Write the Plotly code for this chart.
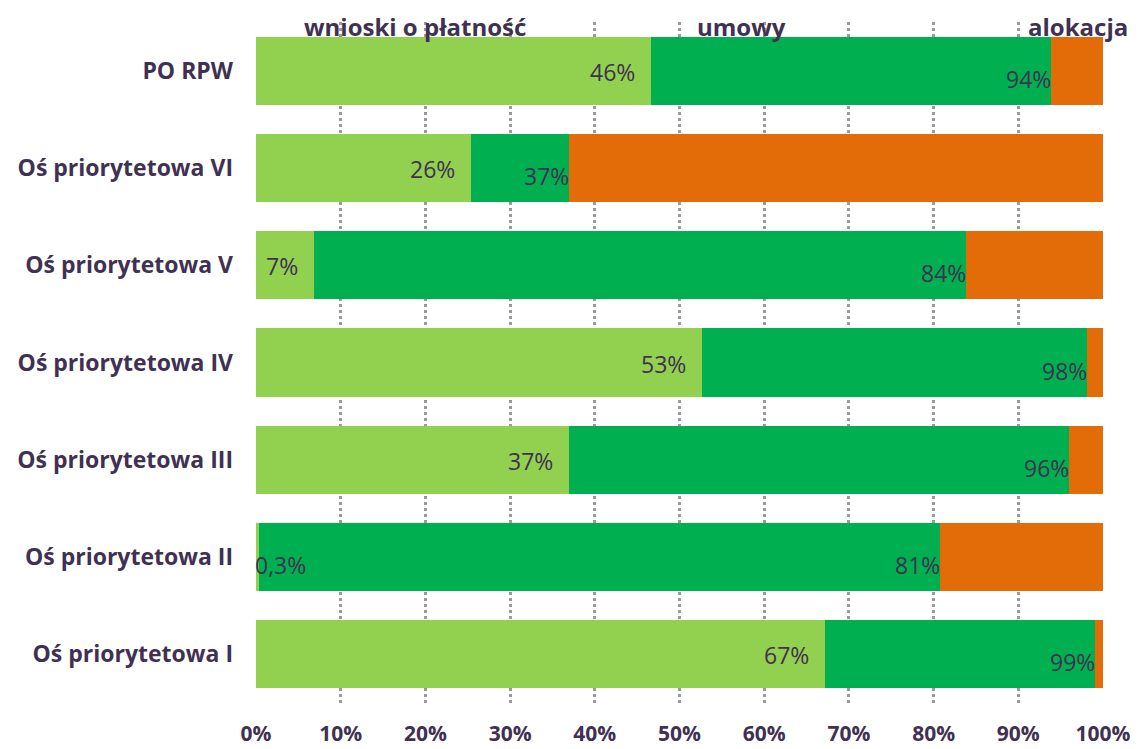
import plotly.graph_objects as go

categories = ["PO RPW", "Oś priorytetowa VI", "Oś priorytetowa V", "Oś priorytetowa IV",
              "Oś priorytetowa III", "Oś priorytetowa II", "Oś priorytetowa I"]
wnioski = [46.6, 25.4, 6.8, 52.7, 37.0, 0.3, 67.2]      # % cumulative (wnioski o płatność)
umowy = [93.9, 37.0, 83.8, 98.1, 96.0, 80.7, 99.1]      # % cumulative (umowy)
alokacja_total = 100.0
wnioski_labels = ["46%", "26%", "7%", "53%", "37%", "0,3%", "67%"]
umowy_labels = ["94%", "37%", "84%", "98%", "96%", "81%", "99%"]
series_names = ["wnioski o płatność", "umowy", "alokacja"]
x_ticks = list(range(0, 101, 10))

TXT = "#3f3151"
C_LIGHT = "#92d050"
C_DARK = "#00b050"
C_ORANGE = "#e36c09"
FONT = "Open Sans"

seg_light = wnioski
seg_dark = [u - w for u, w in zip(umowy, wnioski)]
seg_orange = [alokacja_total - u for u in umowy]

fig = go.Figure()
for name, vals, col in zip(series_names, [seg_light, seg_dark, seg_orange], [C_LIGHT, C_DARK, C_ORANGE]):
    fig.add_trace(go.Bar(y=categories, x=vals, name=name, orientation="h",
                         marker=dict(color=col, line=dict(width=0)), hoverinfo="skip"))

ann = []
for cat, w, lab in zip(categories, wnioski, wnioski_labels):
    if w < 2:
        ann.append(dict(x=0, y=cat, xref="x", yref="y", text=lab, showarrow=False,
                        xanchor="left", yanchor="middle", yshift=-8, xshift=-3,
                        font=dict(family=FONT, size=23, color=TXT)))
    else:
        ann.append(dict(x=w, y=cat, xref="x", yref="y", text=lab, showarrow=False,
                        xanchor="right", yanchor="middle", xshift=-14, yshift=-1,
                        font=dict(family=FONT, size=23, color=TXT)))
for cat, u, lab in zip(categories, umowy, umowy_labels):
    ann.append(dict(x=u, y=cat, xref="x", yref="y", text=lab, showarrow=False,
                    xanchor="right", yanchor="middle", xshift=2, yshift=-8,
                    font=dict(family=FONT, size=23, color=TXT)))

legend_x = [18.8, 57.3, 97.0]
for name, lx in zip(series_names, legend_x):
    ann.append(dict(x=lx, y=1, xref="x", yref="paper", text="<b>%s</b>" % name, showarrow=False,
                    xanchor="center", yanchor="middle", yshift=-4,
                    font=dict(family=FONT, size=24, color=TXT)))

# page body adds an 8px offset; figure size/margins compensate for it
fig.update_layout(
    barmode="stack",
    bargap=0.3,
    width=1130, height=741,
    margin=dict(l=248, r=35, t=14, b=46),
    paper_bgcolor="white", plot_bgcolor="white",
    showlegend=False,
    annotations=ann,
    xaxis=dict(range=[0, 100], tickvals=x_ticks, ticktext=["<b>%d%%</b>" % t for t in x_ticks],
               showgrid=True, gridcolor="#9a9a9a", griddash="dot", gridwidth=3,
               zeroline=False, showline=False, ticks="", ticklabelstandoff=16, automargin=False,
               tickfont=dict(family=FONT, size=21, color=TXT)),
    yaxis=dict(autorange="reversed", showgrid=False, showline=False, ticks="",
               ticklabelstandoff=22, tickvals=categories, automargin=False,
               ticktext=["<b>%s</b>" % c for c in categories],
               tickfont=dict(family=FONT, size=23, color=TXT)),
)

fig.write_html("out.html")
